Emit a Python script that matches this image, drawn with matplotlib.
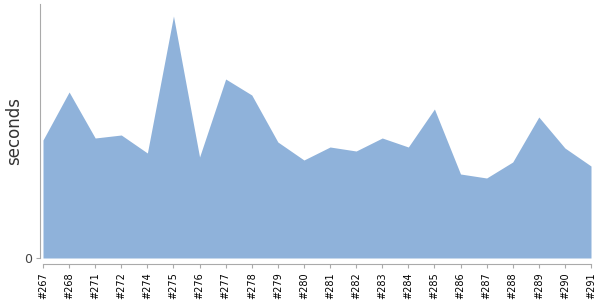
import matplotlib
matplotlib.use("Agg")
import matplotlib.pyplot as plt

builds = ["#267", "#268", "#271", "#272", "#274", "#275", "#276", "#277", "#278", "#279", "#280",
          "#281", "#282", "#283", "#284", "#285", "#286", "#287", "#288", "#289", "#290", "#291"]
seconds = [118, 166, 120, 123, 105, 242, 101, 179, 163, 116, 98,
           111, 107, 120, 111, 149, 84, 80, 96, 141, 110, 92]

fig = plt.figure(figsize=(6, 3), dpi=100)
ax = fig.add_axes((40 / 600, 42 / 300, 551 / 600, 254 / 300))

x = list(range(len(builds)))
ax.fill_between(x, 0, seconds, color="#8FB2DA", linewidth=0)

for side in ("top", "right"):
    ax.spines[side].set_visible(False)
ax.spines["left"].set_color("#AAAAAA")
ax.spines["bottom"].set_color("#AAAAAA")
ax.spines["bottom"].set_position(("outward", 4))
ax.tick_params(axis="both", color="#AAAAAA", length=3, pad=3)

ax.set_xlim(-0.115, len(builds) - 1)
ax.set_ylim(0, 254)
ax.spines["bottom"].set_bounds(0, len(builds) - 1)
ax.set_xticks(x)
ax.set_xticklabels(builds, rotation=90, fontsize=7, color="black")
ax.set_yticks([0])
ax.set_yticklabels(["0"], fontsize=9, color="#444444")
ax.set_ylabel("seconds", fontsize=12, color="#333333")
ax.yaxis.set_label_coords(-0.03, 0.5)

fig.savefig("out.png", dpi=100)
